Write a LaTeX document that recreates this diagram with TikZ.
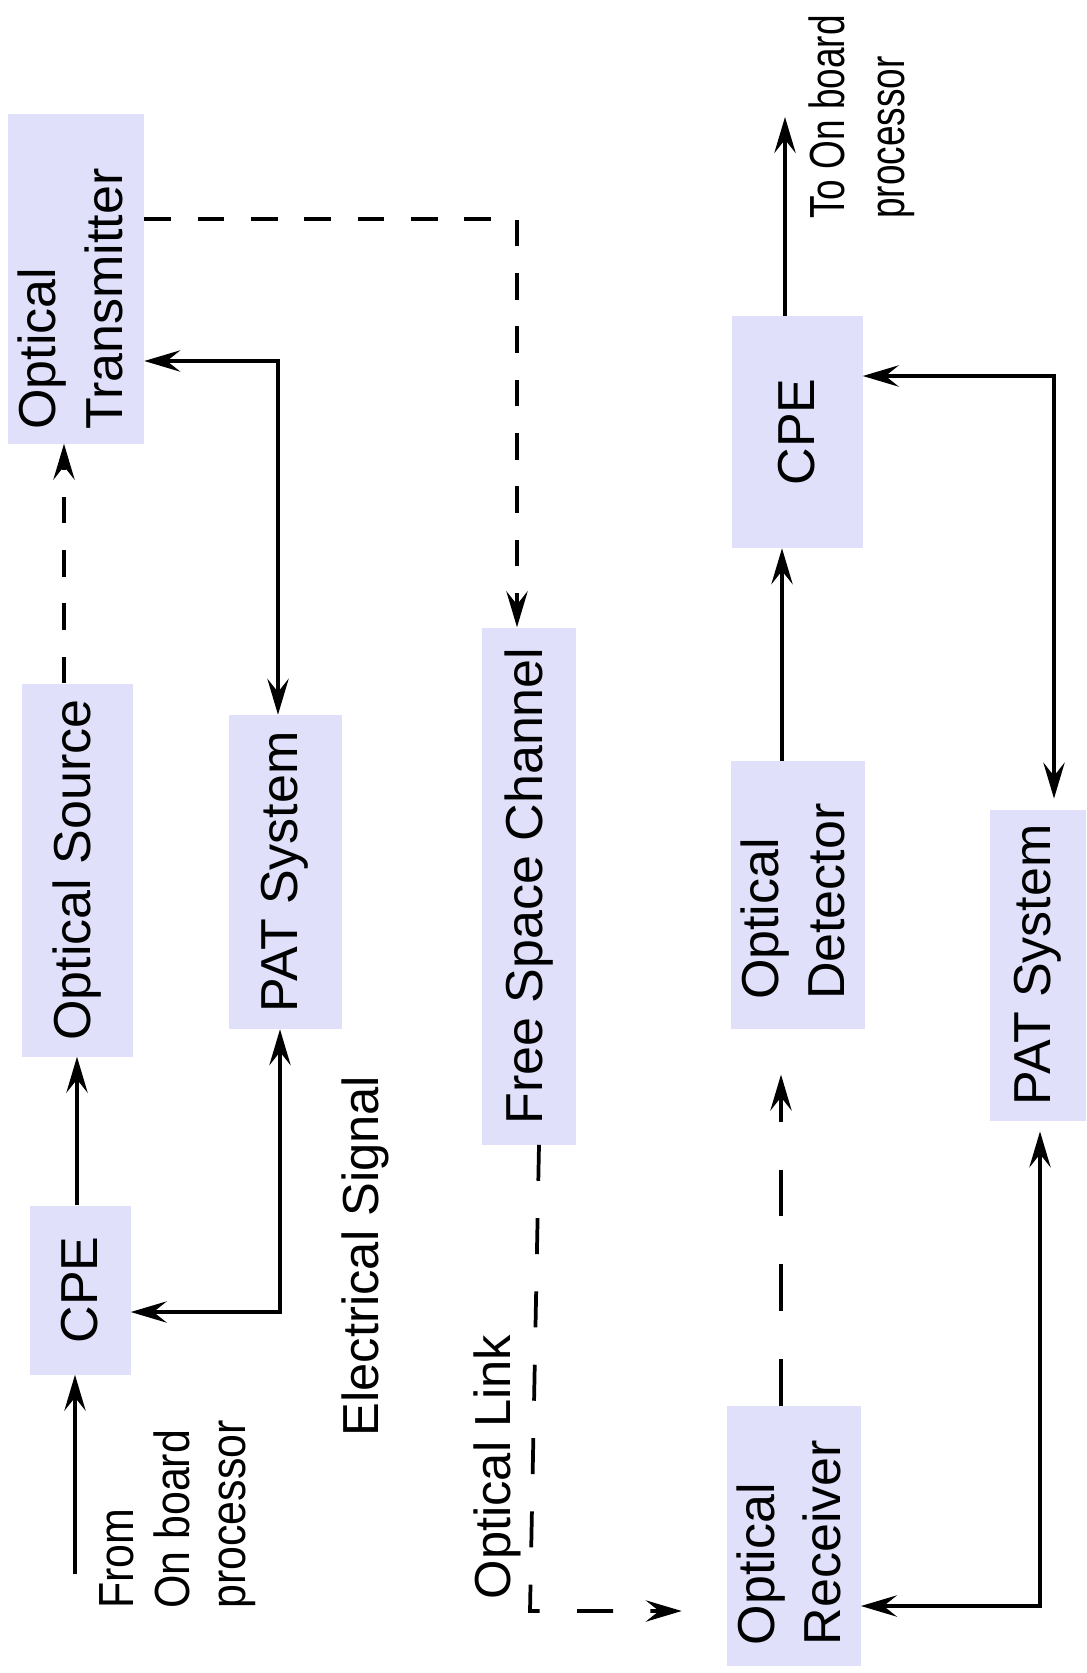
\documentclass[tikz,border=0pt]{standalone}
\usepackage{fontspec}
\setmainfont{Liberation Sans}
\usetikzlibrary{arrows.meta,calc}
\definecolor{boxfill}{RGB}{224,224,250}
\tikzset{
  box/.style={fill=boxfill, inner sep=0pt, font=\fontsize{39}{50}\selectfont},
  lbl/.style={inner sep=0pt, font=\fontsize{38}{46}\selectfont},
  wire/.style={line width=2.8pt},
  tip/.tip={Stealth[length=27pt,width=16pt,inset=10pt]},
  arr/.style={wire, -tip},
  biarr/.style={wire, tip-tip},
  dashA/.style={dash pattern=on 20pt off 20pt},
  dashB/.style={dash pattern=on 27pt off 28pt},
  dashC/.style={dash pattern=on 35pt off 36pt},
}
\newcommand{\twolines}[2]{\begin{tabular}{@{}l@{}}#1\\#2\end{tabular}}
\begin{document}
\begin{tikzpicture}[x=0.75pt,y=-0.75pt]
\useasboundingbox (0,0) rectangle (1086,1673);

% transmitter side
\node[box, minimum width=102pt, minimum height=246.75pt] (ot)   at (76,279)  {\rotatebox{90}{\twolines{Optical}{Transmitter}\hspace{30pt}}};
\node[box, minimum width=83.25pt, minimum height=279.75pt] (os) at (77,870)  {\rotatebox{90}{Optical Source}};
\node[box, minimum width=84.75pt, minimum height=235.5pt] (patL) at (285,872) {\rotatebox{90}{PAT System}};
\node[box, minimum width=75.75pt, minimum height=126.75pt] (cpeL) at (80,1290) {\rotatebox{90}{CPE}};

% channel
\node[box, minimum width=70.5pt, minimum height=387.75pt] (fsc) at (529,886) {\rotatebox{90}{Free Space Channel}};

% receiver side
\node[box, minimum width=97.5pt, minimum height=195pt]  (rcv)  at (794,1536) {\rotatebox{90}{\twolines{Optical}{Receiver}\hspace{10pt}}};
\node[box, minimum width=96.75pt, minimum height=201pt] (od)   at (798,895)  {\rotatebox{90}{\twolines{Optical}{Detector}\hspace{10pt}}};
\node[box, minimum width=98.25pt, minimum height=174pt] (cpeR) at (797,432)  {\rotatebox{90}{CPE}};
\node[box, minimum width=72pt, minimum height=233.25pt] (patR) at (1038,965) {\rotatebox{90}{PAT System}};

% free labels
\node[lbl, anchor=south, font=\fontsize{37}{42}\selectfont] (fromL) at (178,1609)
  {\rotatebox{90}{\scalebox{0.87}[1]{\begin{tabular}{@{}l@{}}From\\On board\\processor\end{tabular}}}};
\node[lbl] (elec) at (365,1256) {\rotatebox{90}{Electrical Signal}};
\node[lbl] (olink) at (497,1467) {\rotatebox{90}{Optical Link}};
\node[lbl, anchor=south, font=\fontsize{37}{45}\selectfont] (toL) at (862,219)
  {\rotatebox{90}{\scalebox{0.75}[1]{\twolines{To On board}{processor}}}};

% transmitter connectors
\coordinate (fromP) at (75,1574);
\draw[arr] (fromP) -- (75,0 |- cpeL.south);
\draw[arr] (77,0 |- cpeL.north) -- (77,0 |- os.south);
\draw[arr, dashA] (64,0 |- os.north) -- (64,0 |- ot.south);
\coordinate (c1) at (278,361);
\draw[biarr] (ot.east |- c1) -- (c1) -- (c1 |- patL.north);
\coordinate (c2) at (280,1312);
\draw[biarr] (c2 |- patL.south) -- (c2) -- (cpeL.east |- c2);

% optical path
\coordinate (c3) at (517,219);
\draw[arr, dashA] (ot.east |- c3) -- (c3) -- (c3 |- fsc.north);
\coordinate (c4) at (530,1611);
\draw[arr, dashB, shorten >=34pt] (539,0 |- fsc.south) -- (c4) -- (rcv.west |- c4);
\draw[arr, dashC, shorten >=34pt] (781,0 |- rcv.north) -- (781,0 |- od.south);

% receiver connectors
\draw[arr] (782,0 |- od.north) -- (782,0 |- cpeR.south);
\coordinate (toP) at (785,117);
\draw[arr] (785,0 |- cpeR.north) -- (toP);
\coordinate (c5) at (1054,376);
\draw[biarr, shorten >=8pt] (cpeR.east |- c5) -- (c5) -- (c5 |- patR.north);
\coordinate (c6) at (1040,1606);
\draw[biarr, shorten <=8pt] (c6 |- patR.south) -- (c6) -- (rcv.east |- c6);
\end{tikzpicture}
\end{document}
